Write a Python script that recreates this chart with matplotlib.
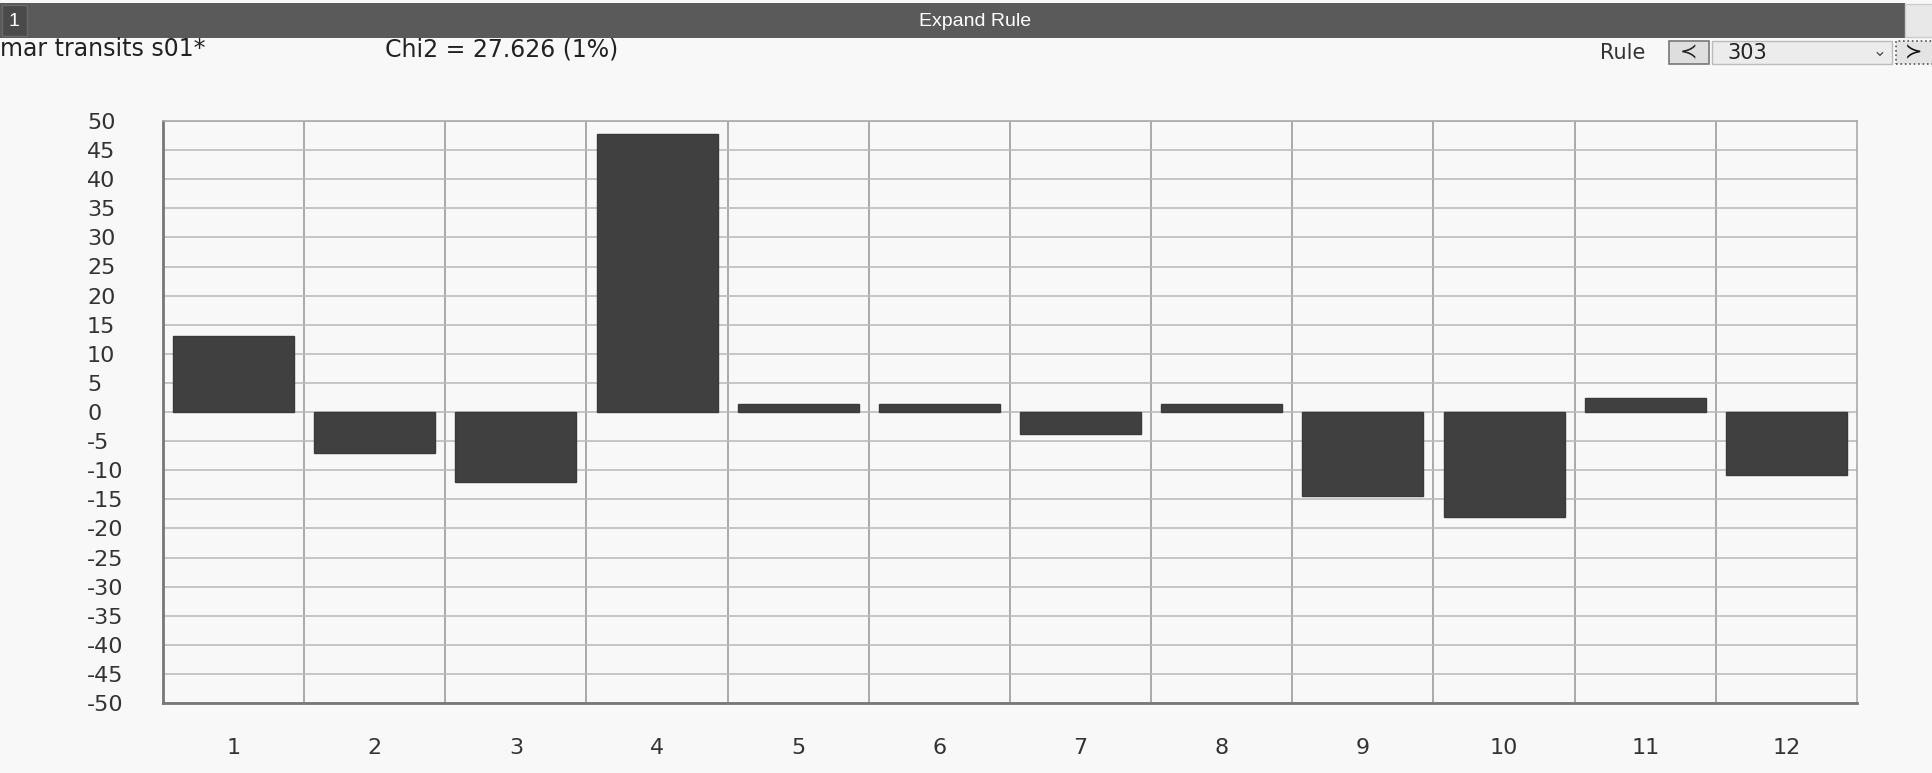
import matplotlib.pyplot as plt
from matplotlib.patches import Rectangle

# chart data
categories = [1, 2, 3, 4, 5, 6, 7, 8, 9, 10, 11, 12]
values = [13.1, -7.1, -12.0, 47.7, 1.3, 1.3, -3.7, 1.3, -14.4, -18.0, 2.4, -10.8]
y_ticks = list(range(-50, 55, 5))

W, H = 1933, 773
fig = plt.figure(figsize=(W / 100, H / 100), dpi=100)
fig.patch.set_facecolor('#f8f8f8')


def px(x, y, w, h):
    # pixel box (top-left origin) -> figure fraction
    return (x / W, 1 - (y + h) / H, w / W, h / H)


def frect(x, y, w, h, **kw):
    l, b, ww, hh = px(x, y, w, h)
    fig.patches.append(Rectangle((l, b), ww, hh, transform=fig.transFigure, **kw))


def ftext(x, y, s, **kw):
    fig.text(x / W, 1 - y / H, s, **kw)


# header bar
frect(0, 3, 1905, 35, facecolor='#5a5a5a', edgecolor='none')
frect(2, 5, 25, 31, facecolor='#4a4a4a', edgecolor='#6a6a6a', lw=1)
ftext(14, 22, '1', color='white', fontsize=14, ha='center', va='center', family='Liberation Sans')
ftext(975, 22, 'Expand Rule', color='white', fontsize=14, ha='center', va='center', family='Liberation Sans')
frect(1905, 4, 28, 33, facecolor='#e8e8e8', edgecolor='#cccccc', lw=1)

# info line
ftext(0, 49, 'mar transits s01*', color='#222222', fontsize=17, ha='left', va='center')
ftext(385, 49, 'Chi2 = 27.626 (1%)', color='#222222', fontsize=17, ha='left', va='center')

# rule selector
ftext(1600, 53, 'Rule', color='#333333', fontsize=15, ha='left', va='center')
frect(1669, 41, 40, 23, facecolor='#dedede', edgecolor='#777777', lw=1.2)
ftext(1689, 52, '≺', color='#222222', fontsize=15, ha='center', va='center')
frect(1712, 41, 180, 23, facecolor='#ececec', edgecolor='#bbbbbb', lw=1)
ftext(1727, 53, '303', color='#222222', fontsize=15, ha='left', va='center')
ftext(1880, 51, '⌄', color='#555555', fontsize=12, ha='center', va='center')
frect(1896, 41, 37, 23, facecolor='#e4e4e4', edgecolor='#555555', lw=1.2, linestyle=':')
ftext(1914, 52, '≻', color='#111111', fontsize=15, ha='center', va='center')

# chart
ax = fig.add_axes(px(163, 121, 1694, 582))
ax.set_facecolor('#f8f8f8')
ax.bar(categories, values, width=0.857, color='#404040', edgecolor='#3a3a3a', linewidth=1, zorder=3)

ax.set_xlim(0.5, 12.5)
ax.set_ylim(-50, 50)
ax.set_yticks(y_ticks)
ax.set_yticklabels([str(t) for t in y_ticks])
ax.set_xticks(categories)
ax.set_xticks([c + 0.5 for c in categories[:-1]], minor=True)

ax.grid(axis='y', which='major', color='#bdbdbd', linewidth=1.2, zorder=0)
ax.grid(axis='x', which='minor', color='#9c9c9c', linewidth=1.2, zorder=0)
ax.grid(axis='x', which='major', visible=False)

ax.tick_params(axis='both', which='both', length=0)
ax.tick_params(axis='y', pad=54.7, labelsize=16, labelcolor='#333333')
ax.tick_params(axis='x', pad=25, labelsize=16, labelcolor='#333333')
for lbl in ax.get_yticklabels():
    lbl.set_horizontalalignment('left')

for side in ['left', 'bottom']:
    ax.spines[side].set_color('#777777')
    ax.spines[side].set_linewidth(2)
for side in ['top', 'right']:
    ax.spines[side].set_color('#aaaaaa')
    ax.spines[side].set_linewidth(1.2)

fig.savefig('out.png', dpi=100, facecolor=fig.get_facecolor())
